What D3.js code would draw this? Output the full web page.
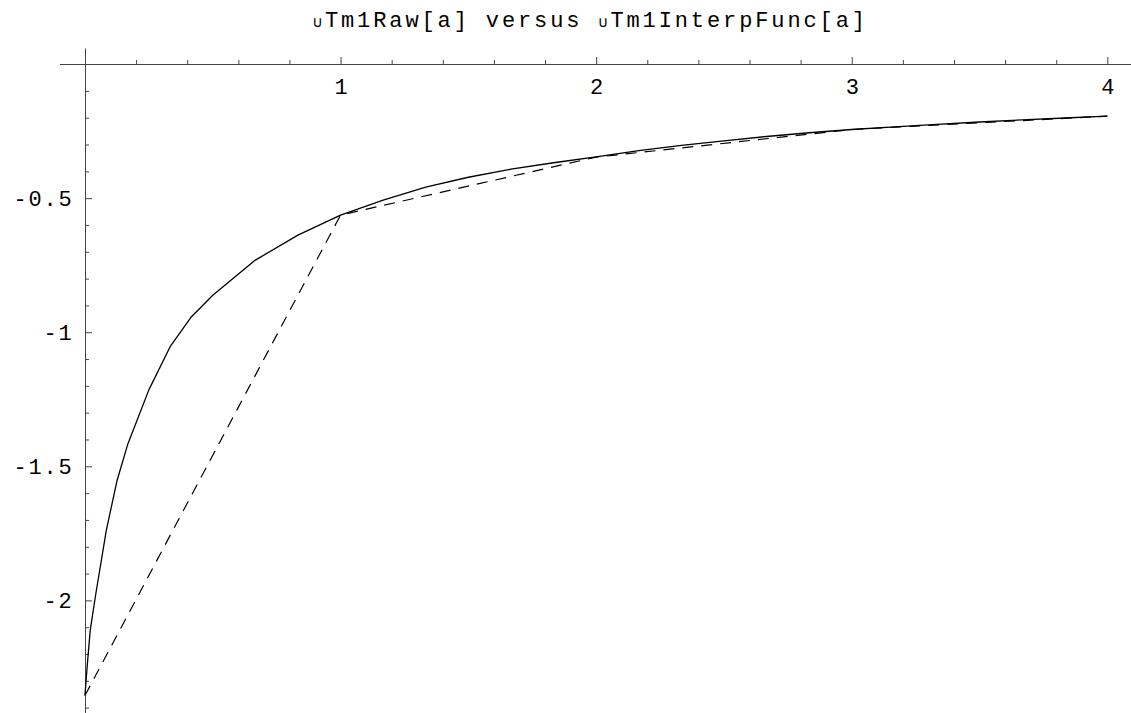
<!DOCTYPE html>
<html>
<head>
<meta charset="utf-8">
<script src="https://cdn.jsdelivr.net/npm/d3@7"></script>
<style>
  html, body { margin: 0; padding: 0; background: #fff; }
  svg { display: block; }
  text { font-family: "Liberation Mono", "Courier New", monospace; fill: #000; }
</style>
</head>
<body>
<svg id="chart" width="1131" height="713"></svg>
<script>
// Sampled values of the raw function (adaptive sampling, denser near a = 0)
const rawA = [0, 0.0104, 0.0208, 0.0417, 0.0833, 0.125, 0.1667, 0.25, 0.3333, 0.4167, 0.5,
  0.6667, 0.8333, 1, 1.1667, 1.3333, 1.5, 1.6667, 1.8333, 2, 2.1667, 2.3333, 2.5,
  2.6667, 2.8333, 3, 3.1667, 3.3333, 3.5, 3.6667, 3.8333, 4];
const rawValues = [-2.355, -2.225, -2.11, -1.98, -1.74, -1.555, -1.42, -1.215, -1.054, -0.942, -0.862,
  -0.731, -0.638, -0.563, -0.507, -0.459, -0.422, -0.392, -0.368, -0.346, -0.323, -0.303, -0.286,
  -0.270, -0.256, -0.244, -0.234, -0.225, -0.216, -0.208, -0.201, -0.194];

// Linear interpolation through the integer nodes
const interpA = [0, 1, 2, 3, 4];
const interpValues = [-2.355, -0.563, -0.347, -0.244, -0.194];

const xTickValues = [1, 2, 3, 4];
const xTickLabels = ["1", "2", "3", "4"];
const yTickValues = [-0.5, -1, -1.5, -2];
const yTickLabels = ["-0.5", "-1", "-1.5", "-2"];

const titleParts = [
  { t: "\u222A", small: true },
  { t: "Tm1Raw[a] versus ", small: false },
  { t: "\u222A", small: true },
  { t: "Tm1InterpFunc[a]", small: false }
];

const svg = d3.select("#chart");

const x = d3.scaleLinear().domain([-0.1, 4.1]).range([59.4, 1132.9]);
const y = d3.scaleLinear().domain([0.06, -2.42]).range([48, 713]);

const axisColor = "#444";
const x0 = Math.round(x(0));
const y0 = Math.round(y(0));

// minor tick positions
const xMinor = d3.range(1, 21).map(i => i / 5).filter(v => Math.abs(v - Math.round(v)) > 1e-6);
const yMinor = d3.range(1, 25).map(i => -i / 10).filter(v => Math.abs(v * 2 - Math.round(v * 2)) > 1e-6);

// x axis (ticks point up, labels below)
const gx = svg.append("g")
  .attr("transform", `translate(0,${y0})`)
  .attr("color", axisColor)
  .call(d3.axisBottom(x)
    .tickValues(xTickValues)
    .tickFormat((d, i) => xTickLabels[i])
    .tickSize(-7)
    .tickSizeOuter(0));
gx.selectAll("text")
  .attr("y", 30).attr("dy", 0)
  .style("font-size", "22px")
  .style("fill", "#000");

svg.append("g")
  .attr("transform", `translate(0,${y0})`)
  .attr("color", axisColor)
  .call(d3.axisBottom(x).tickValues(xMinor).tickFormat(() => "").tickSize(-4).tickSizeOuter(0))
  .call(g => g.select(".domain").remove());

// y axis (ticks point right, labels left)
const gy = svg.append("g")
  .attr("transform", `translate(${x0},0)`)
  .attr("color", axisColor)
  .call(d3.axisLeft(y)
    .tickValues(yTickValues)
    .tickFormat((d, i) => yTickLabels[i])
    .tickSize(-7)
    .tickSizeOuter(0));
gy.selectAll("text")
  .attr("x", -11.5)
  .attr("dy", "0.33em")
  .style("font-size", "22px")
  .style("letter-spacing", "1.8px")
  .style("fill", "#000");

svg.append("g")
  .attr("transform", `translate(${x0},0)`)
  .attr("color", axisColor)
  .call(d3.axisLeft(y).tickValues(yMinor).tickFormat(() => "").tickSize(-4).tickSizeOuter(0))
  .call(g => g.select(".domain").remove());

// curves
const line = d3.line().x(d => x(d[0])).y(d => y(d[1]));

svg.append("path")
  .datum(interpA.map((a, i) => [a, interpValues[i]]))
  .attr("fill", "none")
  .attr("stroke", "#000")
  .attr("stroke-width", 1.2)
  .attr("stroke-dasharray", "11,8")
  .attr("d", line);

svg.append("path")
  .datum(rawA.map((a, i) => [a, rawValues[i]]))
  .attr("fill", "none")
  .attr("stroke", "#000")
  .attr("stroke-width", 1.3)
  .attr("stroke-linejoin", "round")
  .attr("d", line);

// title
const title = svg.append("text")
  .attr("x", 589)
  .attr("y", 27)
  .attr("text-anchor", "middle")
  .attr("textLength", 552)
  .attr("lengthAdjust", "spacing")
  .style("font-size", "22px");
title.selectAll("tspan")
  .data(titleParts)
  .join("tspan")
  .style("font-size", d => d.small ? "15px" : "22px")
  .text(d => d.t);
</script>
</body>
</html>
